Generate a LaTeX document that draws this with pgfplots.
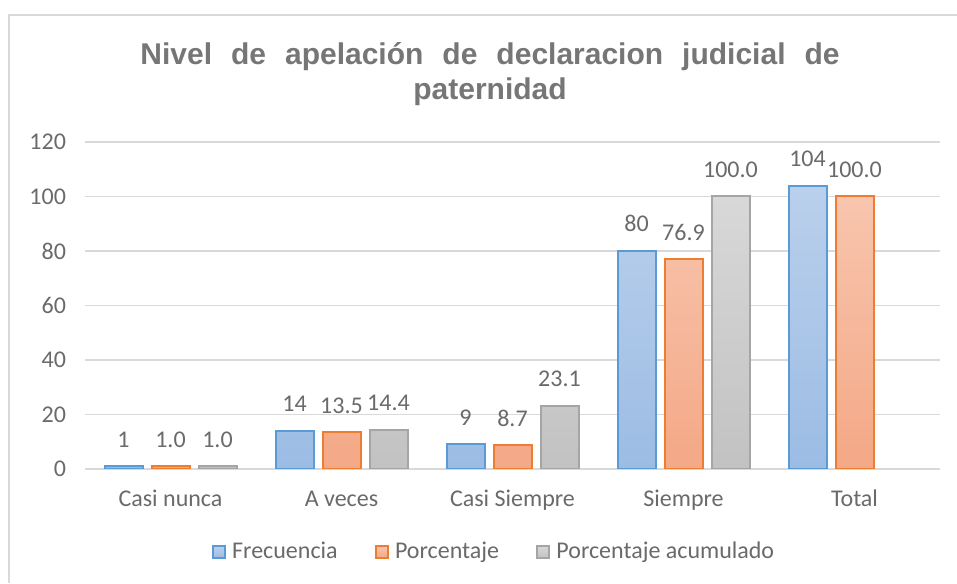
\documentclass[border=0pt]{standalone}
\usepackage{fontspec}
\setmainfont{Carlito}
\newfontfamily\titlefont{Liberation Sans}
\usepackage{pgfplots}
\pgfplotsset{compat=1.18}
\definecolor{txt}{HTML}{6A6A6A}
\definecolor{titlec}{HTML}{767676}
\definecolor{gridc}{HTML}{D9D9D9}
\definecolor{blueE}{HTML}{5B9BD5}
\definecolor{blueT}{HTML}{BAD0EC}
\definecolor{blueB}{HTML}{9CBCE4}
\definecolor{orgE}{HTML}{ED7D31}
\definecolor{orgT}{HTML}{F8C5AE}
\definecolor{orgB}{HTML}{F4A886}
\definecolor{gryE}{HTML}{A5A5A5}
\definecolor{gryT}{HTML}{D8D8D8}
\definecolor{gryB}{HTML}{C2C2C2}
\pgfplotsset{
  mylegend/.style={legend image code/.code={\draw[##1, line width=1pt] (0pt,-3pt) rectangle (6pt,3pt); \path (7.2pt,0pt);}},
}
\begin{document}
\begin{tikzpicture}
\path[use as bounding box] (0,0) rectangle (478.5pt,291.5pt);
\draw[color=gridc, line width=0.75pt] (4.5pt,0) -- (4.5pt,284pt) -- (478.5pt,284pt);
\node[anchor=base, text=titlec, font=\titlefont\bfseries\fontsize{15}{18}\selectfont, inner sep=0pt] at (245pt,259pt)
  {Nivel\hspace{9.5pt}de\hspace{9.5pt}apelación\hspace{9.5pt}de\hspace{9.5pt}declaracion\hspace{9.5pt}judicial\hspace{9.5pt}de};
\node[anchor=base, text=titlec, font=\titlefont\bfseries\fontsize{15}{18}\selectfont, inner sep=0pt] at (245pt,241.5pt) {paternidad};
\begin{axis}[
  at={(42.5pt,57pt)}, anchor=south west,
  scale only axis, width=427.5pt, height=163.5pt,
  xmin=-0.5, xmax=4.5, ymin=0, ymax=120,
  ybar=4.5pt, bar width=19pt,
  axis line style={draw=none},
  xtick={0,1,2,3,4},
  xticklabels={Casi nunca, A veces, Casi Siempre, Siempre, Total},
  ytick={0,20,40,60,80,100,120},
  tick style={draw=none}, major tick length=0pt,
  ymajorgrids, grid style={color=gridc, line width=0.75pt},
  ticklabel style={font=\fontsize{12}{14}\selectfont, text=txt},
  /pgf/number format/assume math mode=true,
  xticklabel style={anchor=base, yshift=-19pt},
  yticklabel style={anchor=east, xshift=-6pt},
  nodes near coords,
  every node near coord/.append style={font=\fontsize{12}{14}\selectfont, text=txt, inner sep=0pt, yshift=9pt},
  legend style={draw=none, at={(0.4795,-0.2538)}, anchor=center, legend columns=3,
    font=\fontsize{12}{14}\selectfont, text=txt,
    /tikz/every even column/.append style={column sep=16.5pt}},
]
\addplot[mylegend, draw=blueE, line width=1pt, top color=blueT, bottom color=blueB,
  nodes near coords style={/pgf/number format/.cd, fixed, precision=0}]
  coordinates {(0,1) (1,14) (2,9) (3,80) (4,104)};
\addplot[mylegend, draw=orgE, line width=1pt, top color=orgT, bottom color=orgB,
  nodes near coords style={/pgf/number format/.cd, fixed, fixed zerofill, precision=1}]
  coordinates {(0,1.0) (1,13.5) (2,8.7) (3,76.9) (4,100.0)};
\addplot[mylegend, draw=gryE, line width=1pt, top color=gryT, bottom color=gryB,
  nodes near coords style={/pgf/number format/.cd, fixed, fixed zerofill, precision=1}]
  coordinates {(0,1.0) (1,14.4) (2,23.1) (3,100.0)};
\legend{Frecuencia, Porcentaje, Porcentaje acumulado}
\end{axis}
\end{tikzpicture}
\end{document}
